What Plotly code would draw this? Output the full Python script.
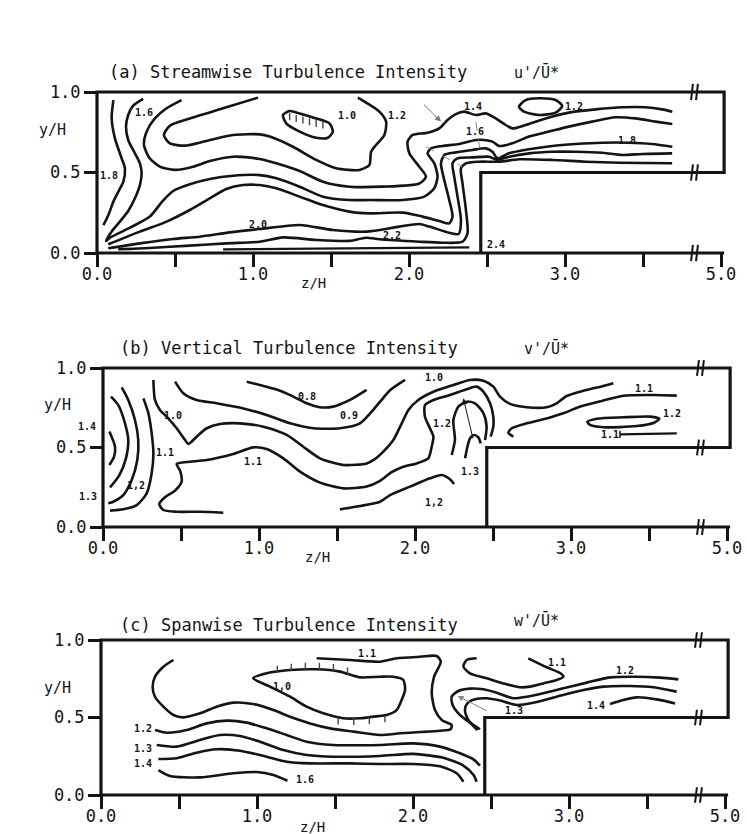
import plotly.graph_objects as go

FIG_W, FIG_H = 747, 834

# ---------------- channel geometry (z/H, y/H) ----------------
STEP_Z = 2.46
END_Z = 4.02          # plotted station of the "5.0" mark (broken axis)
BREAK_Z = 3.83
wall_z = [0, 0, END_Z, END_Z, STEP_Z, STEP_Z]
wall_y = [0, 1, 1, 0.5, 0.5, 0]
floor_z = [0, END_Z]
floor_y = [0, 0]
break_levels = [1.0, 0.5, 0.0]

x_tickvals = [0, 0.5, 1, 1.5, 2, 2.5, 3, 3.5, 4.0]
x_ticktext = ['0.0', '', '1.0', '', '2.0', '', '3.0', '', '5.0']
y_tickvals = [0, 0.5, 1.0]
y_ticktext = ['0.0', '0.5', '1.0']

titles = ["(a) Streamwise Turbulence Intensity",
          "(b) Vertical Turbulence Intensity",
          "(c) Spanwise Turbulence Intensity"]
quantities = ["u'/Ū*", "v'/Ū*", "w'/Ū*"]

# ---------------- (a) streamwise u'/U* ----------------
a_18_left = ([0.105, 0.094, 0.115, 0.158, 0.179, 0.169, 0.137, 0.105, 0.073, 0.041],
             [0.950, 0.837, 0.712, 0.588, 0.526, 0.443, 0.381, 0.319, 0.236, 0.173])
a_16 = ([0.296, 0.232, 0.200, 0.186, 0.200, 0.243, 0.275, 0.286, 0.275, 0.243, 0.200, 0.147, 0.094, 0.058,
         0.083, 0.211, 0.339, 0.414, 0.488, 0.595, 0.723, 0.872, 1.043, 1.149, 1.299, 1.448, 1.618,
         1.746, 1.959, 2.098, 2.162, 2.183, 2.162, 2.119, 2.141, 2.215, 2.322, 2.429, 2.482, 2.535,
         2.577, 2.663, 2.769, 2.897, 3.025, 3.174, 3.324, 3.452, 3.580, 3.688],
        [0.957, 0.915, 0.857, 0.785, 0.702, 0.619, 0.557, 0.495, 0.422, 0.340, 0.261, 0.195, 0.133, 0.075,
         0.095, 0.157, 0.226, 0.315, 0.385, 0.427, 0.460, 0.480, 0.484, 0.464, 0.412, 0.350, 0.329,
         0.329, 0.329, 0.350, 0.402, 0.474, 0.557, 0.619, 0.650, 0.665, 0.677, 0.702, 0.702, 0.692,
         0.665, 0.681, 0.723, 0.754, 0.785, 0.816, 0.843, 0.836, 0.816, 0.801])
a_14 = ([0.542, 0.446, 0.371, 0.318, 0.301, 0.335, 0.403, 0.499, 0.616, 0.723, 0.872, 1.043,
         1.149, 1.299, 1.448, 1.618, 1.832, 2.066, 2.109, 2.066, 2.002, 1.991, 2.023, 2.119, 2.194,
         2.247, 2.300, 2.354, 2.429, 2.492, 2.556, 2.620, 2.663, 2.748, 2.876, 3.025, 3.196, 3.367,
         3.516, 3.623, 3.688],
        [0.950, 0.899, 0.836, 0.754, 0.671, 0.592, 0.536, 0.516, 0.536, 0.571, 0.598, 0.584,
         0.557, 0.509, 0.443, 0.412, 0.412, 0.432, 0.474, 0.536, 0.619, 0.692, 0.733, 0.747, 0.774,
         0.826, 0.863, 0.878, 0.857, 0.867, 0.836, 0.795, 0.774, 0.795, 0.836, 0.872, 0.892, 0.905,
         0.905, 0.892, 0.878])
a_12 = ([1.032, 0.808, 0.595, 0.467, 0.429, 0.467, 0.563, 0.701, 0.872, 1.043, 1.107, 1.256, 1.405,
         1.533, 1.682, 1.746, 1.757, 1.789, 1.842, 1.853, 1.810, 1.672],
        [0.965, 0.899, 0.836, 0.791, 0.733, 0.681, 0.667, 0.696, 0.733, 0.737, 0.723, 0.660, 0.578,
         0.526, 0.516, 0.547, 0.629, 0.671, 0.733, 0.816, 0.878, 0.965])
a_10_island = ([1.192, 1.235, 1.299, 1.405, 1.490, 1.512, 1.480, 1.405, 1.299, 1.213, 1.192],
               [0.857, 0.882, 0.867, 0.836, 0.805, 0.754, 0.716, 0.716, 0.754, 0.805, 0.857])
a_10_hatch = ([1.235, 1.277, 1.320, 1.362, 1.405, 1.448],
              [0.847, 0.836, 0.826, 0.816, 0.805, 0.795])
a_12_oval = ([2.705, 2.748, 2.833, 2.940, 2.982, 2.940, 2.833, 2.737, 2.705],
             [0.909, 0.950, 0.961, 0.950, 0.913, 0.872, 0.857, 0.878, 0.909])
a_18 = ([0.072, 0.275, 0.446, 0.595, 0.723, 0.829, 0.936, 1.043, 1.149, 1.299, 1.448, 1.618, 1.746,
         1.959, 2.087, 2.194, 2.258, 2.279, 2.258, 2.226, 2.205, 2.226, 2.300, 2.407, 2.492, 2.535,
         2.567, 2.641, 2.769, 2.918, 3.067, 3.238, 3.409, 3.558, 3.688],
        [0.054, 0.133, 0.195, 0.267, 0.340, 0.398, 0.422, 0.422, 0.402, 0.350, 0.298, 0.257, 0.246,
         0.251, 0.226, 0.199, 0.184, 0.226, 0.329, 0.453, 0.557, 0.609, 0.625, 0.640, 0.650, 0.629,
         0.588, 0.619, 0.644, 0.665, 0.677, 0.685, 0.685, 0.677, 0.660])
a_20 = ([0.072, 0.275, 0.488, 0.659, 0.851, 1.043, 1.299, 1.512, 1.725, 1.938, 2.066, 2.130, 2.258,
         2.318, 2.333, 2.311, 2.290, 2.279, 2.311, 2.407, 2.514, 2.567, 2.642, 2.770, 2.919, 3.068,
         3.239, 3.367, 3.495, 3.687],
        [0.029, 0.060, 0.087, 0.101, 0.128, 0.149, 0.174, 0.143, 0.133, 0.164, 0.180, 0.164, 0.126,
         0.118, 0.205, 0.350, 0.474, 0.557, 0.588, 0.594, 0.598, 0.578, 0.598, 0.619, 0.629, 0.629,
         0.623, 0.609, 0.615, 0.619])
a_22 = ([0.136, 0.339, 0.595, 0.829, 1.043, 1.192, 1.405, 1.618, 1.725, 1.810, 2.066, 2.215, 2.343,
         2.375, 2.365, 2.343, 2.333, 2.365, 2.450, 2.578, 2.706, 2.919, 3.132, 3.345, 3.687],
        [0.023, 0.031, 0.046, 0.060, 0.070, 0.097, 0.081, 0.075, 0.095, 0.085, 0.070, 0.064, 0.070,
         0.122, 0.267, 0.433, 0.526, 0.557, 0.567, 0.567, 0.582, 0.578, 0.567, 0.561, 0.557])
a_24 = ([0.808, 1.300, 1.900, 2.386],
        [0.022, 0.025, 0.030, 0.035])
a_labels = [("1.8", 0.077, 0.484), ("1.6", 0.30, 0.87), ("1.0", 1.60, 0.857), ("1.2", 1.92, 0.857),
            ("1.4", 2.41, 0.913), ("1.6", 2.42, 0.752), ("1.2", 3.06, 0.913), ("1.8", 3.40, 0.700),
            ("2.0", 1.03, 0.180), ("2.2", 1.89, 0.106), ("2.4", 2.56, 0.050)]
a_arrow = (2.087, 0.930, 2.205, 0.816)
a_dash1 = ([2.109, 2.343], [0.660, 0.536])
a_dash2 = ([2.429, 2.461], [0.816, 0.598])

# ---------------- (b) vertical v'/U* ----------------
b_14 = ([0.041, 0.077, 0.071, 0.041], [0.600, 0.505, 0.442, 0.390])
b_13 = ([0.051, 0.098, 0.141, 0.162, 0.147, 0.105, 0.045],
        [0.820, 0.767, 0.652, 0.547, 0.432, 0.327, 0.249])
b_12_left = ([0.120, 0.162, 0.205, 0.226, 0.220, 0.184, 0.130, 0.066, 0.034],
             [0.878, 0.799, 0.673, 0.547, 0.421, 0.296, 0.201, 0.159, 0.149])
b_11_left = ([0.259, 0.291, 0.312, 0.323, 0.312, 0.280, 0.216, 0.130, 0.045],
             [0.809, 0.715, 0.589, 0.463, 0.338, 0.212, 0.138, 0.111, 0.103])
b_10 = ([0.323, 0.333, 0.365, 0.408, 0.472, 0.526, 0.547, 0.600, 0.665, 0.750, 0.878, 1.028, 1.177,
         1.284, 1.391, 1.541, 1.690, 1.740, 1.797, 1.861, 1.915, 1.958, 2.021, 2.118, 2.246, 2.353,
         2.438, 2.502, 2.545, 2.609, 2.716, 2.844, 2.908, 2.972, 3.079, 3.207, 3.271],
        [0.925, 0.799, 0.736, 0.694, 0.621, 0.547, 0.522, 0.568, 0.621, 0.648, 0.652, 0.631, 0.579,
         0.505, 0.432, 0.390, 0.400, 0.425, 0.474, 0.547, 0.652, 0.736, 0.799, 0.851, 0.893, 0.925,
         0.920, 0.883, 0.820, 0.774, 0.753, 0.753, 0.778, 0.824, 0.857, 0.887, 0.904])
b_09 = ([0.462, 0.515, 0.600, 0.729, 0.900, 1.049, 1.199, 1.348, 1.519, 1.647, 1.722, 1.776, 1.840, 1.936],
        [0.914, 0.841, 0.799, 0.778, 0.746, 0.704, 0.652, 0.621, 0.621, 0.652, 0.725, 0.788, 0.860, 0.925])
b_08 = ([0.921, 1.028, 1.135, 1.220, 1.306, 1.391, 1.476, 1.583, 1.690],
        [0.914, 0.887, 0.857, 0.820, 0.778, 0.753, 0.757, 0.799, 0.862])
b_11_long = ([0.771, 0.622, 0.472, 0.387, 0.361, 0.397, 0.462, 0.504, 0.494, 0.472, 0.536, 0.665, 0.835,
              0.964, 1.049, 1.156, 1.263, 1.391, 1.541, 1.690, 1.776, 1.850, 1.925, 2.011, 2.085, 2.107,
              2.118, 2.096, 2.064, 2.064, 2.118, 2.224, 2.331, 2.395, 2.438, 2.481, 2.502, 2.502, 2.485],
             [0.090, 0.096, 0.096, 0.107, 0.145, 0.187, 0.229, 0.285, 0.354, 0.396, 0.409, 0.421, 0.459,
              0.501, 0.491, 0.432, 0.348, 0.279, 0.243, 0.254, 0.290, 0.345, 0.379, 0.400, 0.432, 0.505,
              0.568, 0.621, 0.694, 0.767, 0.799, 0.830, 0.866, 0.883, 0.851, 0.778, 0.694, 0.631, 0.568])
b_12_lower = ([1.519, 1.647, 1.776, 1.840, 1.968, 2.096, 2.171, 2.224, 2.250],
              [0.111, 0.132, 0.159, 0.201, 0.254, 0.306, 0.327, 0.300, 0.270])
b_12_inner = ([2.235, 2.256, 2.246, 2.278, 2.333, 2.385, 2.438, 2.459, 2.449],
              [0.453, 0.547, 0.673, 0.757, 0.788, 0.778, 0.717, 0.633, 0.547])
b_13_inner = ([2.321, 2.336, 2.353, 2.378, 2.406, 2.421],
              [0.432, 0.505, 0.558, 0.579, 0.564, 0.526])
b_11_right = ([2.630, 2.598, 2.620, 2.716, 2.844, 2.951, 3.047, 3.207, 3.335, 3.528, 3.678],
              [0.568, 0.593, 0.621, 0.652, 0.683, 0.715, 0.753, 0.795, 0.826, 0.830, 0.826])
b_12_oval = ([3.122, 3.105, 3.165, 3.335, 3.506, 3.566, 3.532, 3.421, 3.207, 3.122],
             [0.642, 0.662, 0.681, 0.690, 0.694, 0.681, 0.656, 0.635, 0.627, 0.642])
b_11_short = ([3.314, 3.678], [0.583, 0.589])
b_11_tick = ([3.314, 3.314], [0.560, 0.605])
b_labels = [("1.4", -0.10, 0.629), ("1.3", -0.096, 0.189), ("1,2", 0.21, 0.258), ("1.1", 0.40, 0.47),
            ("1.0", 0.45, 0.704), ("0.8", 1.31, 0.818), ("0.9", 1.58, 0.704), ("1.1", 0.96, 0.41),
            ("1.0", 2.12, 0.943), ("1.2", 2.17, 0.654), ("1.3", 2.35, 0.352), ("1,2", 2.12, 0.157),
            ("1.1", 3.47, 0.868), ("1.2", 3.65, 0.717), ("1.1", 3.25, 0.579)]
b_arrow = (2.374, 0.547, 2.310, 0.809)

# ---------------- (c) spanwise w'/U* ----------------
c_11 = ([1.382, 1.596, 1.788, 1.895, 2.045, 2.152, 2.178, 2.135, 2.120, 2.141, 2.184, 2.248, 2.241,
         2.173, 2.045, 1.917, 1.788, 1.617, 1.468, 1.340, 1.212, 1.105, 0.976, 0.848, 0.741, 0.635,
         0.528, 0.464, 0.400, 0.346, 0.331, 0.346, 0.400, 0.464],
        [0.882, 0.871, 0.860, 0.882, 0.892, 0.897, 0.860, 0.763, 0.656, 0.548, 0.484, 0.452, 0.424,
         0.415, 0.406, 0.398, 0.387, 0.409, 0.430, 0.462, 0.505, 0.548, 0.587, 0.596, 0.570, 0.527,
         0.501, 0.516, 0.570, 0.634, 0.699, 0.763, 0.828, 0.871])
c_10_island = ([0.976, 1.062, 1.212, 1.382, 1.532, 1.660, 1.788, 1.874, 1.938, 1.949, 1.927, 1.895,
                1.831, 1.788, 1.660, 1.553, 1.425, 1.318, 1.212, 1.083, 0.976],
               [0.753, 0.785, 0.806, 0.811, 0.796, 0.759, 0.763, 0.763, 0.742, 0.677, 0.613, 0.548,
                0.516, 0.510, 0.495, 0.495, 0.527, 0.570, 0.634, 0.699, 0.753])
c_10_hatch = ([1.13, 1.22, 1.31, 1.40, 1.49, 1.58, 1.52, 1.62, 1.72, 1.82],
              [0.812, 0.825, 0.830, 0.830, 0.822, 0.800, 0.478, 0.474, 0.480, 0.492])
c_12 = ([0.346, 0.421, 0.549, 0.677, 0.806, 0.934, 1.062, 1.190, 1.318, 1.489, 1.788, 2.002, 2.173,
         2.301, 2.387, 2.429],
        [0.419, 0.402, 0.419, 0.462, 0.480, 0.467, 0.430, 0.387, 0.344, 0.323, 0.323, 0.333, 0.312,
         0.269, 0.230, 0.190])
c_13 = ([0.357, 0.485, 0.635, 0.763, 0.891, 1.019, 1.169, 1.318, 1.489, 1.788, 2.002, 2.194, 2.323,
         2.387, 2.408],
        [0.323, 0.312, 0.355, 0.387, 0.381, 0.344, 0.290, 0.258, 0.247, 0.252, 0.265, 0.240, 0.190,
         0.130, 0.086])
c_14 = ([0.368, 0.485, 0.613, 0.741, 0.891, 1.062, 1.190, 1.340, 1.596, 1.788, 2.002, 2.173, 2.280, 2.323],
        [0.232, 0.237, 0.273, 0.295, 0.286, 0.247, 0.215, 0.204, 0.204, 0.200, 0.200, 0.185, 0.140, 0.086])
c_16 = ([0.368, 0.442, 0.635, 0.848, 0.998, 1.105, 1.195],
        [0.161, 0.123, 0.114, 0.140, 0.148, 0.129, 0.092])
c_12_right = ([2.429, 2.365, 2.301, 2.254, 2.248, 2.291, 2.365, 2.451, 2.536, 2.643, 2.729, 2.835,
               2.964, 3.114, 3.263, 3.434, 3.583, 3.701],
              [0.424, 0.467, 0.516, 0.581, 0.634, 0.671, 0.686, 0.682, 0.660, 0.624, 0.634, 0.656,
               0.688, 0.725, 0.759, 0.763, 0.757, 0.746])
c_13_right = ([2.413, 2.355, 2.333, 2.348, 2.397, 2.472, 2.558, 2.665, 2.771, 2.921, 3.092, 3.220,
               3.391, 3.541, 3.690],
              [0.419, 0.484, 0.548, 0.591, 0.617, 0.624, 0.609, 0.581, 0.595, 0.634, 0.677, 0.699,
               0.703, 0.695, 0.667])
c_14_right = ([3.263, 3.348, 3.434, 3.562, 3.680], [0.587, 0.613, 0.630, 0.617, 0.591])
c_11_loop = ([2.408, 2.344, 2.323, 2.365, 2.472, 2.579, 2.686, 2.750, 2.835, 2.921, 2.964, 2.946,
              2.857, 2.739],
             [0.882, 0.871, 0.828, 0.785, 0.753, 0.720, 0.695, 0.699, 0.720, 0.742, 0.763, 0.785,
              0.824, 0.882])
c_labels = [("1.1", 1.705, 0.91), ("1,0", 1.16, 0.697), ("1.2", 0.27, 0.432), ("1.3", 0.27, 0.303),
            ("1.4", 0.27, 0.206), ("1.6", 1.31, 0.097), ("1.1", 2.92, 0.858), ("1.2", 3.36, 0.806),
            ("1.3", 2.65, 0.548), ("1.4", 3.17, 0.58)]
c_arrow = (2.483, 0.538, 2.286, 0.639)

# ---------------- layout frames (pixels) ----------------
FRAMES = [dict(x0=97, sx=156, ybot=253, ytop=92),
          dict(x0=103, sx=156, ybot=527, ytop=368),
          dict(x0=101, sx=156, ybot=795, ytop=640)]
TITLE_POS = [((107, 72), (512, 72)), ((118, 348), (522, 348)), ((118, 625), (512, 620))]
YLAB_POS = [(52, 130), (58, 405), (58, 688)]
ZLAB_POS = [(313, 283), (317, 557), (312, 827)]

INK = '#141414'
MONO = 'DejaVu Sans Mono'
PAD = 0.1

fig = go.Figure()
layout = dict(width=FIG_W, height=FIG_H, margin=dict(l=0, r=0, t=0, b=0),
              paper_bgcolor='white', plot_bgcolor='rgba(0,0,0,0)',
              showlegend=False, hovermode=False)
annotations = []


def px2paper(px, py):
    return px / FIG_W, 1 - py / FIG_H


def add_line(c, ax, width=2.6, color=INK, dash='solid', smooth=True):
    fig.add_trace(go.Scatter(x=c[0], y=c[1], mode='lines', xaxis=ax[0], yaxis=ax[1],
                             line=dict(color=color, width=width, dash=dash,
                                       shape='spline' if smooth else 'linear',
                                       smoothing=0.7 if smooth else 0),
                             hoverinfo='skip'))


panel_contours = [
    [a_18_left, a_16, a_14, a_12, a_10_island, a_12_oval, a_18, a_20, a_22],
    [b_14, b_13, b_12_left, b_11_left, b_10, b_09, b_08, b_11_long, b_12_lower, b_12_inner,
     b_13_inner, b_11_right, b_12_oval],
    [c_11, c_10_island, c_12, c_13, c_14, c_16, c_12_right, c_13_right, c_14_right, c_11_loop],
]
panel_labels = [a_labels, b_labels, c_labels]
panel_arrows = [(a_arrow, '#777', 1.0), (b_arrow, INK, 1.0), (c_arrow, '#888', 1.0)]

for i, fr in enumerate(FRAMES):
    n = '' if i == 0 else str(i + 1)
    xa, ya = 'x' + n, 'y' + n
    sy = fr['ybot'] - fr['ytop']
    top_px = fr['ytop'] - PAD * sy
    bot_px = fr['ybot'] + PAD * sy
    dom = [1 - bot_px / FIG_H, 1 - top_px / FIG_H]
    xr = [-fr['x0'] / fr['sx'], (FIG_W - fr['x0']) / fr['sx']]
    tickfont = dict(family=MONO, size=17, color=INK)
    layout['xaxis' + n] = dict(domain=[0, 1], range=xr, anchor='free', position=1 - fr['ybot'] / FIG_H,
                               showgrid=False, zeroline=False, showline=False,
                               ticks='outside', ticklen=13, tickwidth=2.5, tickcolor=INK,
                               tickmode='array', tickvals=x_tickvals, ticktext=x_ticktext,
                               ticklabelstandoff=-7,
                               tickfont=tickfont, fixedrange=True)
    layout['yaxis' + n] = dict(domain=dom, range=[-PAD, 1 + PAD], anchor='free', position=fr['x0'] / FIG_W,
                               showgrid=False, zeroline=False, showline=False,
                               ticks='outside', ticklen=13, tickwidth=2.5, tickcolor=INK,
                               tickmode='array', tickvals=y_tickvals, ticktext=y_ticktext,
                               tickfont=tickfont, fixedrange=True)
    ax = (xa, ya)

    # channel walls and floor/axis line
    add_line((wall_z, wall_y), ax, width=3.2, smooth=False)
    add_line((floor_z, floor_y), ax, width=3.2, smooth=False)
    # axis-break marks
    for lev in break_levels:
        for dz in (-0.016, 0.016):
            add_line(([BREAK_Z + dz + 0.006, BREAK_Z + dz - 0.006], [lev + 0.05, lev - 0.05]),
                     ax, width=2.0, smooth=False)

    for c in panel_contours[i]:
        add_line(c, ax)

    for txt, zz, yy in panel_labels[i]:
        annotations.append(dict(x=zz, y=yy, xref=xa, yref=ya, text=txt, showarrow=False,
                                font=dict(family=MONO, size=10, color=INK, weight='bold')))

    (x1, y1, x2, y2), acol, aw = panel_arrows[i]
    annotations.append(dict(x=x2, y=y2, ax=x1, ay=y1, xref=xa, yref=ya, axref=xa, ayref=ya,
                            text='', showarrow=True, arrowhead=2, arrowsize=1.2,
                            arrowwidth=aw, arrowcolor=acol))

    (tx, ty), (qx, qy) = TITLE_POS[i]
    px_, py_ = px2paper(tx, ty)
    annotations.append(dict(x=px_, y=py_, xref='paper', yref='paper', text=titles[i], showarrow=False,
                            xanchor='left', yanchor='middle', font=dict(family=MONO, size=17, color=INK)))
    px_, py_ = px2paper(qx, qy)
    annotations.append(dict(x=px_, y=py_, xref='paper', yref='paper', text=quantities[i], showarrow=False,
                            xanchor='left', yanchor='middle', font=dict(family=MONO, size=15, color=INK)))
    lx, ly = px2paper(*YLAB_POS[i])
    annotations.append(dict(x=lx, y=ly, xref='paper', yref='paper', text='y/H', showarrow=False,
                            xanchor='center', yanchor='middle', font=dict(family=MONO, size=15, color=INK)))
    lx, ly = px2paper(*ZLAB_POS[i])
    annotations.append(dict(x=lx, y=ly, xref='paper', yref='paper', text='z/H', showarrow=False,
                            xanchor='center', yanchor='middle', font=dict(family=MONO, size=14, color=INK)))

# hatch ticks on the low-intensity islands
fig.add_trace(go.Scatter(x=a_10_hatch[0], y=a_10_hatch[1], mode='markers', xaxis='x', yaxis='y',
                         marker=dict(symbol='line-ns', size=5, line=dict(width=1.4, color='#444')),
                         hoverinfo='skip'))
fig.add_trace(go.Scatter(x=c_10_hatch[0], y=c_10_hatch[1], mode='markers', xaxis='x3', yaxis='y3',
                         marker=dict(symbol='line-ns', size=5, line=dict(width=1.4, color='#444')),
                         hoverinfo='skip'))
# extra marks
add_line(a_24, ('x', 'y'), width=2.2, smooth=False)
add_line(a_dash1, ('x', 'y'), width=1.0, color='#888', dash='dash', smooth=False)
add_line(a_dash2, ('x', 'y'), width=1.0, color='#888', dash='dash', smooth=False)
add_line(b_11_short, ('x2', 'y2'), width=2.2, smooth=False)
add_line(b_11_tick, ('x2', 'y2'), width=1.5, smooth=False)

layout['annotations'] = annotations
fig.update_layout(**layout)
fig.write_html("out.html")
